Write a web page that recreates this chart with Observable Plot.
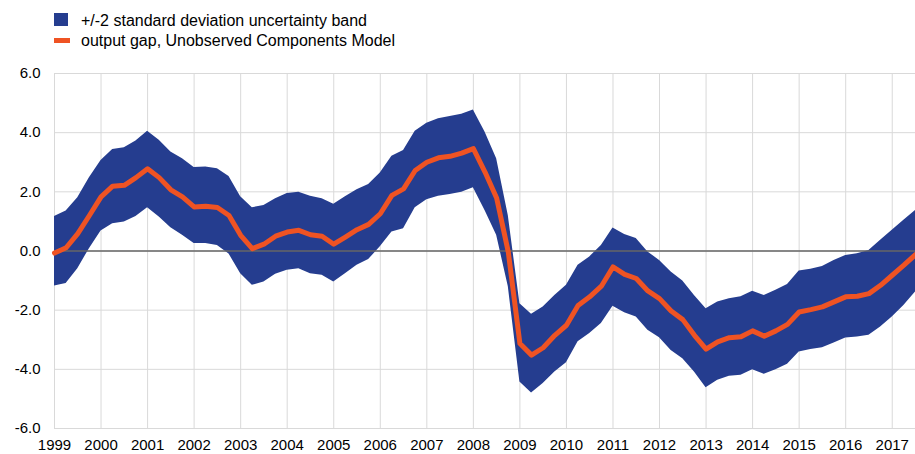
<!DOCTYPE html>
<html><head><meta charset="utf-8">
<script src="https://cdn.jsdelivr.net/npm/d3@7"></script>
<script src="https://cdn.jsdelivr.net/npm/@observablehq/plot@0.6"></script>
<style>
body{margin:0;background:#fff;font-family:"Liberation Sans",Arial,sans-serif;}
#legend{display:block;}
#chart svg{display:block;}
</style></head><body>
<svg id="legend" width="915" height="55" font-family="Liberation Sans, Arial, sans-serif" font-size="16"></svg>
<div id="chart"></div>
<script>
// Quarterly observations, 1999Q1 .. 2017Q3
const startYear = 1999;
const gap = [
 -0.07, 0.11, 0.59, 1.20,
  1.83, 2.19, 2.22, 2.48,
  2.78, 2.48, 2.07, 1.83,
  1.49, 1.51, 1.47, 1.20,
  0.53, 0.08, 0.23, 0.50,
  0.64, 0.70, 0.55, 0.50,
  0.23, 0.47, 0.72, 0.90,
  1.26, 1.88, 2.10, 2.72,
  3.00, 3.15, 3.20, 3.31,
  3.46, 2.67, 1.79, -0.03,
 -3.13, -3.52, -3.27, -2.85,
 -2.51, -1.84, -1.55, -1.19,
 -0.54, -0.79, -0.93, -1.35,
 -1.61, -2.03, -2.32, -2.85,
 -3.32, -3.07, -2.93, -2.90,
 -2.70, -2.88, -2.70, -2.48,
 -2.06, -1.98, -1.89, -1.72,
 -1.55, -1.53, -1.44, -1.16,
 -0.82, -0.48, -0.12
];
const upper = [
  1.17, 1.35, 1.80, 2.48,
  3.06, 3.43, 3.49, 3.72,
  4.05, 3.74, 3.35, 3.12,
  2.82, 2.84, 2.78, 2.52,
  1.83, 1.46, 1.54, 1.77,
  1.94, 1.99, 1.85, 1.77,
  1.58, 1.83, 2.07, 2.25,
  2.64, 3.20, 3.40, 4.05,
  4.32, 4.47, 4.55, 4.62,
  4.77, 4.02, 3.12, 1.20,
 -1.78, -2.14, -1.89, -1.50,
 -1.16, -0.48, -0.20, 0.19,
  0.78, 0.56, 0.42, -0.03,
 -0.32, -0.71, -1.01, -1.50,
 -1.95, -1.72, -1.61, -1.55,
 -1.36, -1.50, -1.33, -1.13,
 -0.68, -0.62, -0.52, -0.32,
 -0.15, -0.09, 0.02, 0.36,
  0.70, 1.04, 1.37
];
const lower = [
 -1.18, -1.10, -0.60, 0.08,
  0.68, 0.92, 0.98, 1.17,
  1.46, 1.15, 0.79, 0.53,
  0.25, 0.25, 0.19, -0.10,
 -0.77, -1.16, -1.05, -0.79,
 -0.65, -0.60, -0.77, -0.82,
 -1.05, -0.77, -0.48, -0.29,
  0.14, 0.64, 0.75, 1.46,
  1.73, 1.85, 1.91, 1.99,
  2.14, 1.37, 0.53, -1.20,
 -4.43, -4.80, -4.48, -4.09,
 -3.78, -3.07, -2.79, -2.45,
 -1.87, -2.09, -2.23, -2.68,
 -2.93, -3.36, -3.64, -4.09,
 -4.62, -4.37, -4.23, -4.20,
 -4.01, -4.17, -4.01, -3.83,
 -3.41, -3.33, -3.27, -3.11,
 -2.94, -2.91, -2.85, -2.57,
 -2.23, -1.84, -1.39
];
const yearTicks = [1999,2000,2001,2002,2003,2004,2005,2006,2007,2008,2009,2010,2011,2012,2013,2014,2015,2016,2017];
const yTicks = [-6, -4, -2, 0, 2, 4, 6];
const legendLabels = ["+/-2 standard deviation uncertainty band", "output gap, Unobserved Components Model"];
const bandColor = "#253d8f";
const lineColor = "#ef5323";

const data = gap.map((g, i) => ({t: startYear + i / 4, gap: g, hi: upper[i], lo: lower[i]}));

// Legend
const lg = d3.select("#legend");
lg.append("rect").attr("x", 54).attr("y", 13).attr("width", 14).attr("height", 13).attr("fill", bandColor);
lg.append("text").attr("x", 81).attr("y", 26).text(legendLabels[0]);
lg.append("rect").attr("x", 54).attr("y", 38).attr("width", 16).attr("height", 5).attr("fill", lineColor);
lg.append("text").attr("x", 81).attr("y", 46).text(legendLabels[1]);

const chart = Plot.plot({
  width: 915, height: 399,
  marginTop: 18, marginBottom: 26, marginLeft: 54, marginRight: 0,
  style: {fontFamily: "Liberation Sans, Arial, sans-serif", fontSize: "15px", color: "#000", background: "#fff", overflow: "visible"},
  x: {domain: [1999, 2017.5], ticks: yearTicks, tickFormat: d => String(d), tickSize: 0, tickPadding: 11, label: null},
  y: {domain: [-6, 6], ticks: yTicks, tickFormat: d => d.toFixed(1), tickSize: 0, tickPadding: 14, label: null},
  marks: [
    Plot.gridX(yearTicks, {stroke: "#d9d9d9", strokeOpacity: 1, strokeWidth: 1}),
    Plot.gridY(yTicks, {stroke: "#d9d9d9", strokeOpacity: 1, strokeWidth: 1}),
    Plot.areaY(data, {x: "t", y1: "lo", y2: "hi", fill: bandColor}),
    Plot.ruleY([0], {stroke: "#666", strokeWidth: 1.5}),
    Plot.lineY(data, {x: "t", y: "gap", stroke: lineColor, strokeWidth: 5})
  ]
});
document.getElementById("chart").append(chart);
</script>
</body></html>
